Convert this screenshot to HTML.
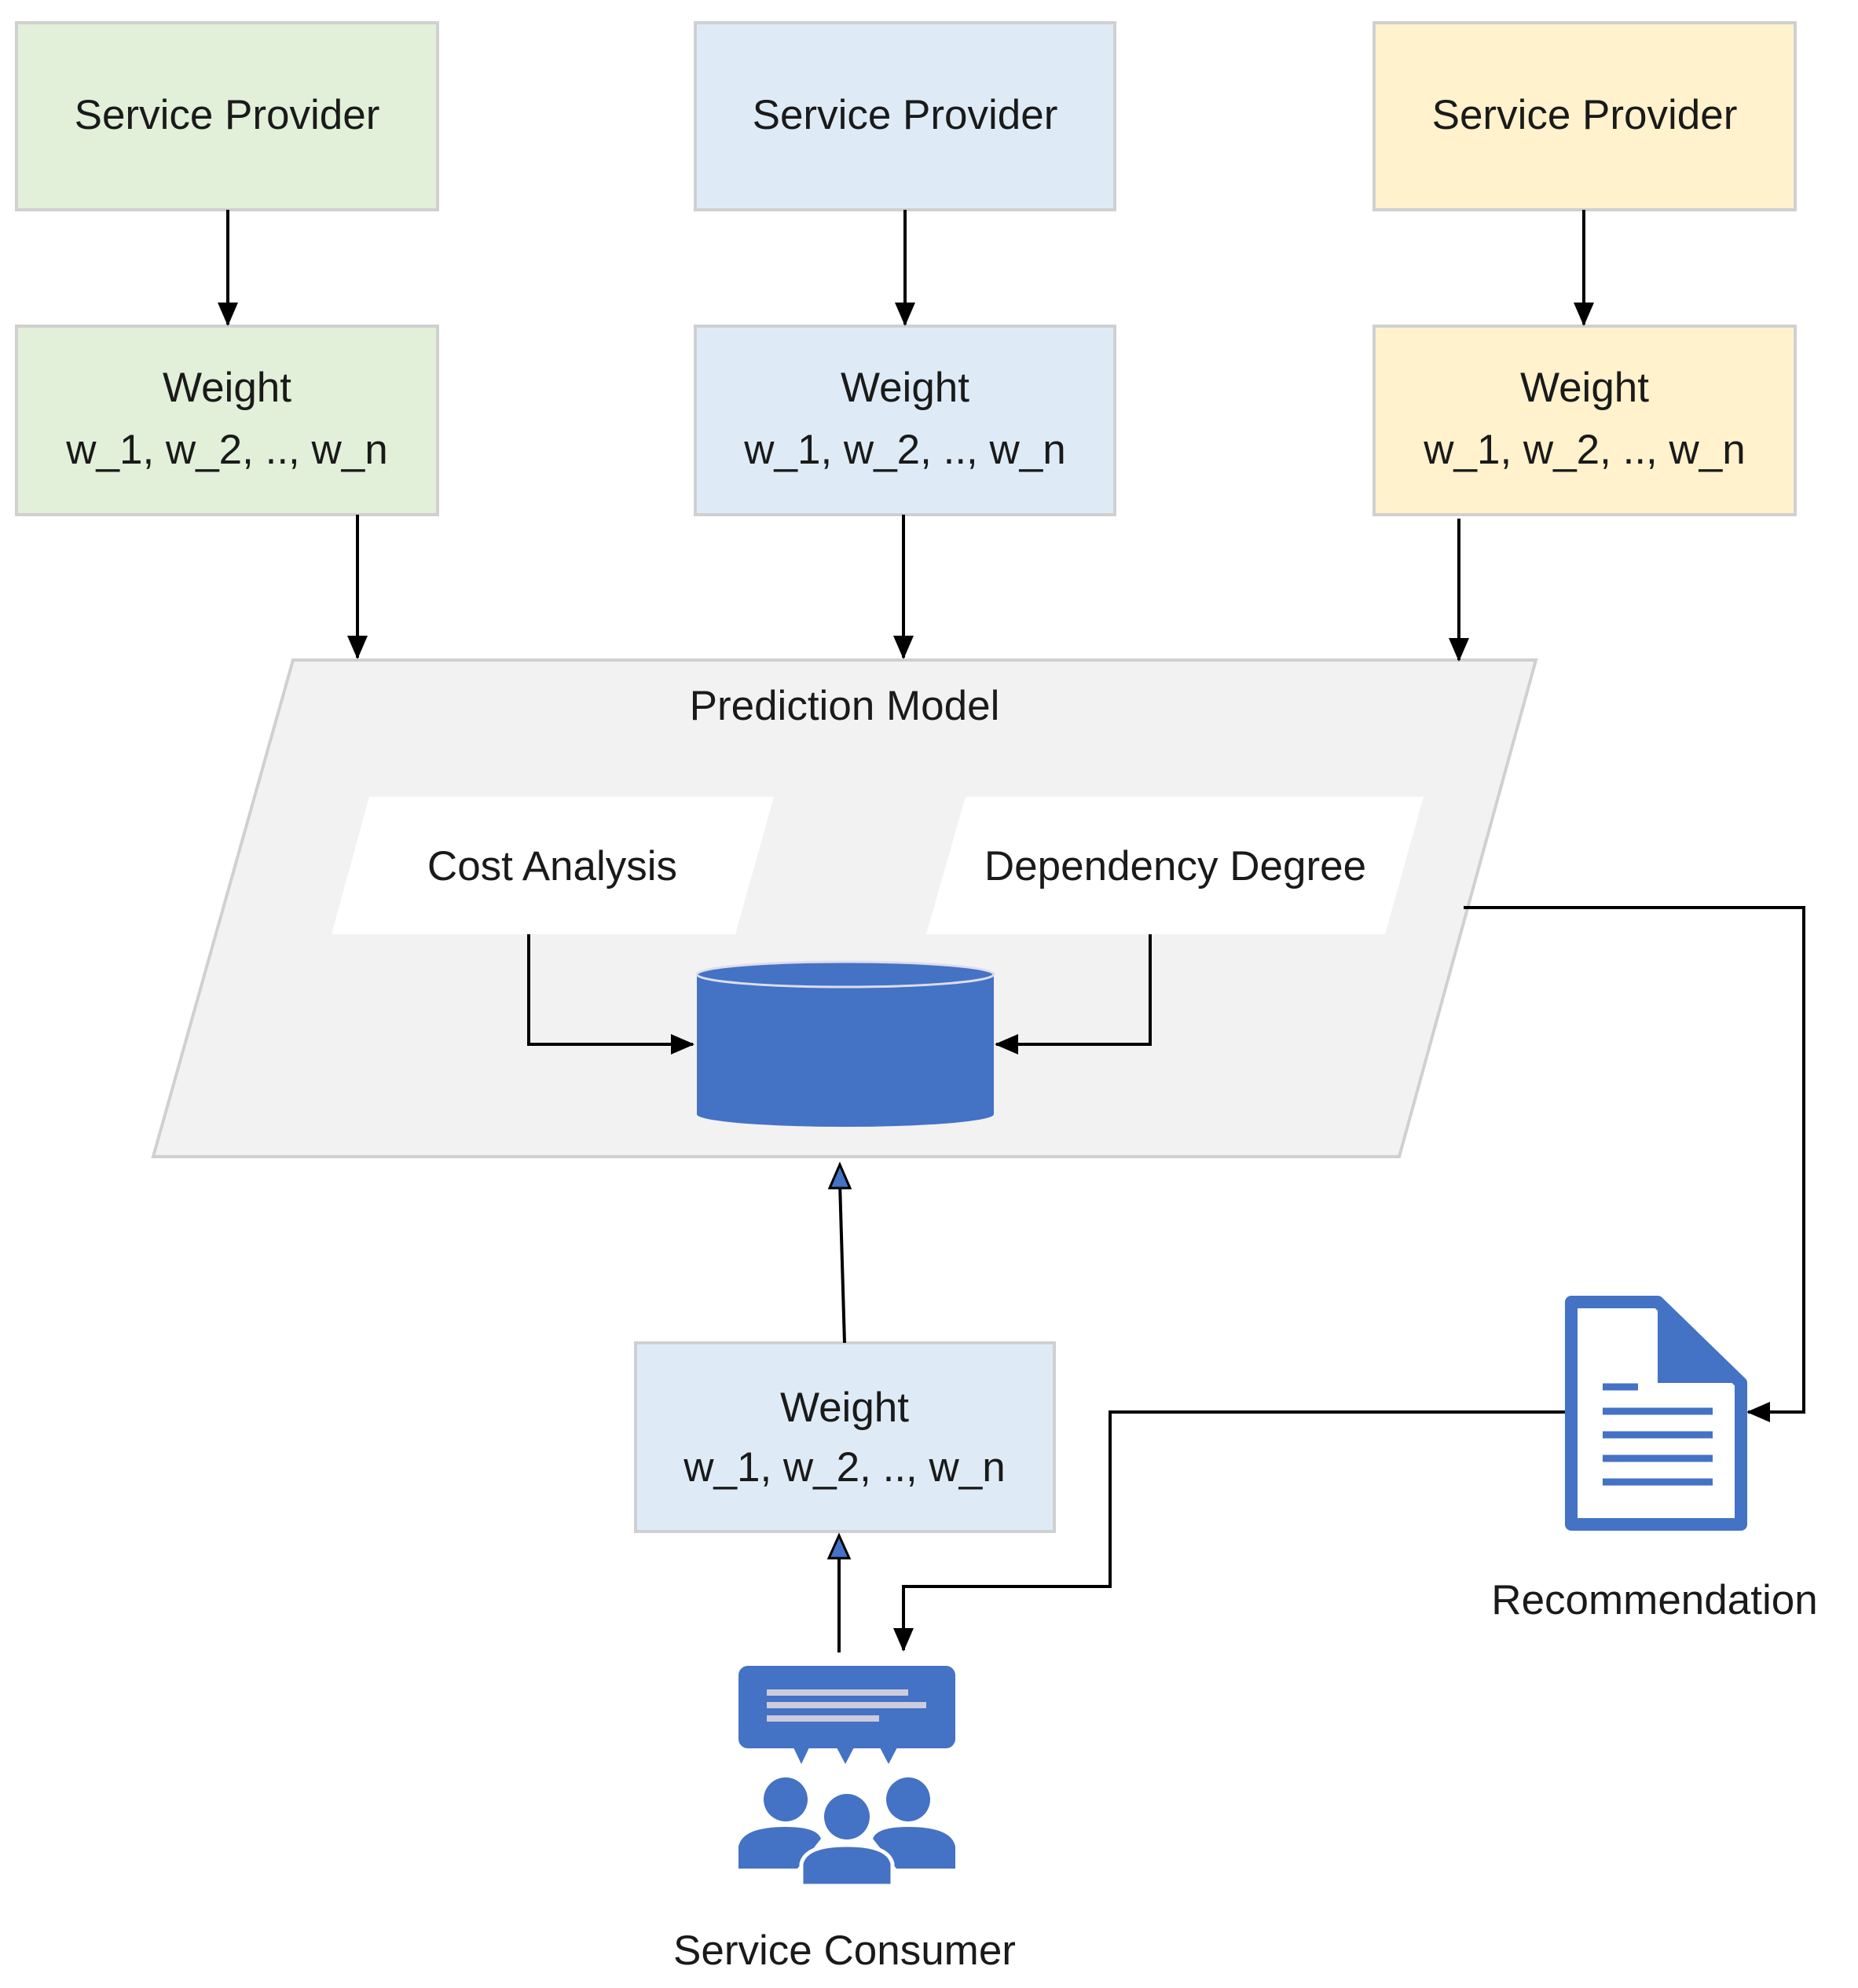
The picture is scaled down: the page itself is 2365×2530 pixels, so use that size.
<!DOCTYPE html>
<html><head><meta charset="utf-8"><style>
html,body{margin:0;padding:0;background:#fff}
svg{display:block}
text{font-family:"Liberation Sans",sans-serif;fill:#1a1a1a}
</style></head><body>
<svg width="2365" height="2530" viewBox="0 0 2365 2530" xmlns="http://www.w3.org/2000/svg">
<defs>
<marker id="a" markerWidth="30" markerHeight="30" refX="28" refY="15" orient="auto" markerUnits="userSpaceOnUse" viewBox="0 0 30 30"><path d="M0,2 L30,15 L0,28 z" fill="#000"/></marker>
</defs>
<g stroke="#d0d0d0" stroke-width="4">
<rect x="21" y="29" width="536" height="238" fill="#e2efd9"/>
<rect x="885" y="29" width="534" height="238" fill="#deebf7"/>
<rect x="1749" y="29" width="536" height="238" fill="#fff2cc"/>
<rect x="21" y="415" width="536" height="240" fill="#e2efd9"/>
<rect x="885" y="415" width="534" height="240" fill="#deebf7"/>
<rect x="1749" y="415" width="536" height="240" fill="#fff2cc"/>
<polygon points="373,840 1955,840 1781,1472 195,1472" fill="#f2f2f2"/>
<rect x="809" y="1709" width="533" height="240" fill="#deebf7"/>
</g>
<polygon points="470,1014 985,1014 936,1189 422,1189" fill="#fff"/>
<polygon points="1229,1014 1812,1014 1763,1189 1179,1189" fill="#fff"/>
<g font-size="53" text-anchor="middle">
<text x="289" y="164">Service Provider</text>
<text x="1152" y="164">Service Provider</text>
<text x="2017" y="164">Service Provider</text>
<text x="289" y="511">Weight</text><text x="289" y="590">w_1, w_2, .., w_n</text>
<text x="1152" y="511">Weight</text><text x="1152" y="590">w_1, w_2, .., w_n</text>
<text x="2017" y="511">Weight</text><text x="2017" y="590">w_1, w_2, .., w_n</text>
<text x="1075" y="916">Prediction Model</text>
<text x="703" y="1120">Cost Analysis</text>
<text x="1496" y="1120">Dependency Degree</text>
<text x="1075" y="1809">Weight</text><text x="1075" y="1885">w_1, w_2, .., w_n</text>
<text x="2106" y="2054">Recommendation</text>
<text x="1075" y="2500">Service Consumer</text>
</g>
<g stroke="#000" stroke-width="4" fill="none" marker-end="url(#a)">
<line x1="290" y1="267" x2="290" y2="413"/>
<line x1="1152" y1="267" x2="1152" y2="413"/>
<line x1="2016" y1="267" x2="2016" y2="413"/>
<line x1="455" y1="655" x2="455" y2="837"/>
<line x1="1150" y1="655" x2="1150" y2="837"/>
<line x1="1857" y1="660" x2="1857" y2="840"/>
<polyline points="673,1189 673,1329 882,1329"/>
<polyline points="1464,1189 1464,1329 1268,1329"/>
<polyline points="1863,1155 2296,1155 2296,1797 2225,1797"/>
<polyline points="1992,1797 1413,1797 1413,2019 1150,2019 1150,2100"/>
</g>
<g stroke="#000" stroke-width="4">
<line x1="1075" y1="1709" x2="1069" y2="1505"/>
<line x1="1068" y1="2103" x2="1068" y2="1975"/>
</g>
<polygon points="1069,1482 1056,1512 1082,1512" fill="#4472c4" stroke="#000" stroke-width="3"/>
<polygon points="1068,1954 1055,1983 1081,1983" fill="#4472c4" stroke="#000" stroke-width="3"/>
<path d="M887,1240 L887,1418 A189,16 0 0 0 1265,1418 L1265,1240 z" fill="#4472c4"/>
<ellipse cx="1076" cy="1240" rx="189" ry="16" fill="#4472c4" stroke="#dde" stroke-width="3"/>
<path d="M2000,1657 L2110,1657 L2216,1760 L2216,1940 L2000,1940 z" fill="#fff" stroke="#4472c4" stroke-width="16" stroke-linejoin="round"/>
<path d="M2110,1657 L2110,1760 L2216,1760 z" fill="#4472c4"/>
<g stroke="#4472c4" stroke-width="9">
<line x1="2040" y1="1765" x2="2085" y2="1765"/>
<line x1="2040" y1="1796" x2="2180" y2="1796"/>
<line x1="2040" y1="1826" x2="2180" y2="1826"/>
<line x1="2040" y1="1856" x2="2180" y2="1856"/>
<line x1="2040" y1="1886" x2="2180" y2="1886"/>
</g>
<rect x="940" y="2120" width="276" height="105" rx="12" fill="#4472c4"/>
<polygon points="1010,2224 1030,2224 1020,2245" fill="#4472c4"/>
<polygon points="1065,2224 1087,2224 1076,2245" fill="#4472c4"/>
<polygon points="1120,2224 1142,2224 1131,2245" fill="#4472c4"/>
<g fill="#ccd">
<rect x="976" y="2150" width="180" height="8"/>
<rect x="976" y="2166" width="203" height="8"/>
<rect x="976" y="2183" width="143" height="8"/>
</g>
<g fill="#4472c4">
<circle cx="1000" cy="2290" r="28"/>
<circle cx="1156" cy="2290" r="28"/>
<path d="M940,2378 L940,2350 Q945,2325 1000,2325 Q1040,2325 1045,2340 L1015,2378 z"/>
<path d="M1216,2378 L1216,2350 Q1211,2325 1156,2325 Q1116,2325 1111,2340 L1141,2378 z"/>
<circle cx="1078" cy="2312" r="29"/>
<path d="M1020,2400 L1020,2372 Q1025,2348 1078,2348 Q1131,2348 1136,2372 L1136,2400 z" stroke="#fff" stroke-width="5"/>
</g>
</svg>
</body></html>
